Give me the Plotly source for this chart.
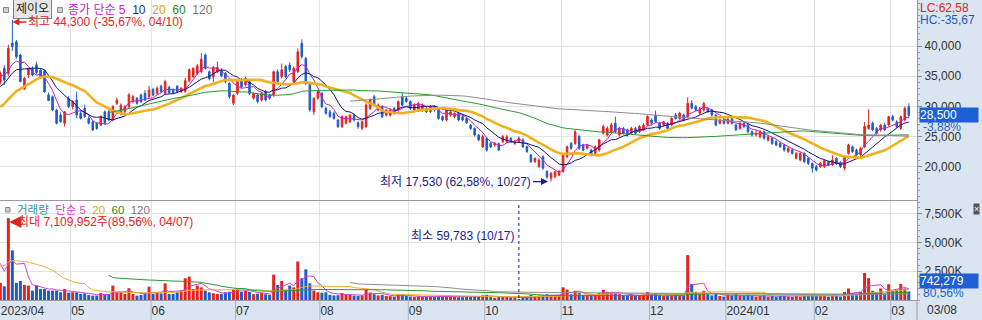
import pandas as pd
import plotly.graph_objects as go
from plotly.subplots import make_subplots

# ---------------- data ----------------
NAME = "제이오"
FIRST_DAY = "2023-04-05"
LAST_DAY = "2024-03-08"
KRX_HOLIDAYS = ["2023-05-01", "2023-05-05", "2023-05-29", "2023-06-06", "2023-08-15",
                "2023-09-28", "2023-09-29", "2023-10-02", "2023-10-03", "2023-10-09",
                "2023-12-25", "2023-12-29", "2024-01-01", "2024-02-09", "2024-02-12",
                "2024-03-01"]

open_ = [
    34000, 36300, 35450, 40500, 40700, 38500, 32850, 35200, 36300, 36900,
    36000, 35900, 31900, 31600, 29400, 28550, 27200, 31300, 29950, 31050,
    28850, 29650, 28000, 27450, 27200, 26900, 29100, 29100, 27750, 30500,
    28850, 29100, 29950, 30800, 31350, 31900, 32150, 31600, 32800, 32150,
    33350, 32150, 33150, 32800, 33350, 32450, 32450, 34250, 34900, 35500,
    35750, 38500, 35750, 34900, 35750, 36050, 35450, 33800, 30500, 32150,
    34350, 33550, 34100, 31350, 31900, 31050, 32450, 31900, 31900, 35750,
    34900, 36600, 36850, 34100, 35750, 40450, 37950, 33800, 29100, 31350,
    32150, 29650, 29100, 28850, 27750, 26650, 27200, 27450, 28550, 27300,
    26350, 26650, 29650, 31600, 29400, 29950, 28550, 28550, 29650, 29400,
    31600, 31350, 30800, 29400, 29400, 29400, 29650, 29100, 29950, 29650,
    28300, 27750, 28550, 28300, 28850, 28300, 28000, 26900, 26350, 25250,
    23300, 24700, 23850, 23600, 23850, 24150, 24150, 24700, 23850, 24150,
    24450, 23300, 21950, 20850, 20000, 21650, 19200, 18100, 18350, 18600,
    19200, 21650, 23850, 23850, 25000, 23600, 23050, 22750, 22200, 22750,
    25550, 25250, 25800, 27200, 25250, 26350, 26100, 25550, 26350, 25800,
    26100, 26900, 27750, 28550, 27200, 26900, 27200, 26900, 28550, 28000,
    28550, 28300, 30500, 29950, 28850, 29400, 29650, 29400, 28550, 27200,
    27750, 27200, 28000, 26900, 26350, 27200, 26900, 25800, 25250, 24950,
    25800, 24400, 24700, 24150, 23850, 23600, 22500, 22750, 21400, 21100,
    22200, 21400, 20550, 20000, 20000, 20000, 20800, 20300, 21400, 20650,
    19750, 22200, 23300, 22750, 21950, 23300, 26350, 27200, 26350, 26100,
    26900, 26900, 28300, 27450, 26350, 27750, 29950]

high = [
    35800, 36800, 40200, 44300, 41000, 38700, 34900, 36300, 36600, 37400,
    36300, 36000, 32300, 31800, 29600, 29000, 29200, 31700, 31000, 32400,
    29300, 30300, 28400, 27700, 27400, 28500, 29300, 29400, 30200, 31500,
    30500, 30200, 32200, 31900, 31500, 32100, 32700, 33400, 33100, 33300,
    33600, 34400, 33400, 33000, 33500, 33200, 34700, 36300, 36500, 37000,
    38800, 38800, 35900, 36700, 37400, 36300, 35700, 34000, 31900, 34300,
    34700, 34900, 34300, 32300, 32100, 32400, 32700, 32100, 35900, 36100,
    37100, 36900, 37300, 36600, 39600, 41100, 38200, 34100, 31500, 32700,
    32400, 29900, 29400, 29100, 27900, 28500, 28500, 28700, 28800, 27500,
    27600, 30500, 31300, 31900, 30500, 30200, 29600, 29700, 29900, 31000,
    32200, 31600, 31000, 30500, 30700, 30500, 29900, 30200, 30200, 29900,
    28500, 29600, 29300, 29000, 29100, 28500, 28200, 27100, 26500, 25400,
    25300, 24900, 24100, 24100, 24000, 25300, 25300, 24900, 24500, 25000,
    24700, 23500, 22100, 21500, 21400, 21900, 19400, 19100, 19300, 19500,
    22200, 23500, 24100, 26100, 25300, 23800, 23800, 23000, 23500, 24600,
    27000, 26700, 27300, 28300, 26600, 26600, 26300, 26600, 26600, 26900,
    27200, 28500, 28000, 29300, 27400, 27600, 27400, 28200, 28900, 29100,
    28800, 31500, 31000, 30200, 29900, 30700, 29900, 29600, 28700, 27900,
    28000, 28100, 28300, 27100, 27400, 27400, 27100, 26000, 26000, 26100,
    26000, 25200, 24900, 24400, 24100, 23800, 23300, 23000, 22400, 22400,
    22400, 21600, 20700, 20300, 20800, 21200, 21000, 21900, 21600, 20900,
    21800, 23800, 23500, 23000, 23300, 27400, 29500, 27500, 26600, 27100,
    27300, 28400, 28600, 27700, 28500, 30000, 30500]

low = [
    33600, 33550, 35000, 39200, 37900, 34000, 32700, 34700, 35000, 35300,
    34700, 32200, 30900, 29200, 27000, 27300, 26650, 29700, 29500, 28000,
    27800, 28100, 27000, 25900, 26100, 26700, 27000, 27600, 27500, 30200,
    28500, 28800, 29700, 30500, 30300, 30600, 30900, 31300, 31700, 31900,
    32200, 31900, 32100, 32000, 32200, 32200, 32300, 34000, 34700, 35200,
    35500, 36100, 34300, 34000, 35500, 34800, 33800, 31300, 30200, 31900,
    33000, 33300, 31900, 31100, 30500, 30800, 30800, 31100, 31600, 33800,
    34600, 34700, 35700, 33900, 35500, 37900, 33500, 29100, 28550, 31100,
    29700, 28600, 28100, 27800, 26400, 26400, 27000, 27200, 27500, 26300,
    26050, 26400, 29400, 30000, 29200, 28000, 28300, 28300, 28600, 29100,
    30000, 30600, 29400, 29100, 29100, 29100, 28900, 28900, 29100, 27800,
    27500, 27500, 28300, 28000, 27500, 27500, 27100, 26100, 25000, 24200,
    23100, 22500, 23100, 23300, 22600, 23900, 23900, 23900, 23600, 23900,
    23100, 22300, 20600, 20600, 19800, 19500, 18000, 17530, 18100, 18400,
    19000, 21400, 22800, 23600, 22800, 22600, 22800, 21700, 22000, 22500,
    25300, 25000, 25500, 25600, 25000, 25300, 25000, 25300, 25300, 25600,
    25900, 26700, 27000, 27300, 26100, 26700, 26100, 26700, 27800, 27800,
    27500, 28100, 29500, 29200, 28600, 29100, 28900, 28300, 26700, 27000,
    27000, 27000, 27000, 25900, 26100, 26400, 25500, 25000, 25000, 24700,
    24500, 24200, 23600, 23400, 23100, 22500, 22300, 22000, 21200, 20900,
    20600, 20300, 19000, 19200, 19800, 19800, 20100, 20100, 20300, 19800,
    19400, 22000, 22300, 21700, 21700, 23100, 26100, 25900, 25300, 25800,
    25900, 26700, 27500, 26400, 26100, 27500, 28000]

close = [
    35500, 34350, 39600, 39900, 38200, 34100, 34650, 36300, 35200, 35600,
    34900, 32400, 30950, 29400, 27200, 27450, 29100, 29950, 30800, 28550,
    28000, 28300, 27200, 26100, 26350, 28300, 27200, 27750, 29950, 31050,
    30200, 29950, 31900, 31600, 30500, 30800, 31050, 32700, 31900, 33000,
    32450, 34100, 32250, 32250, 32450, 33000, 34250, 36050, 36300, 36700,
    37800, 36300, 34600, 36450, 36450, 35050, 34100, 31600, 31900, 34100,
    33250, 34650, 32150, 32150, 30800, 32150, 31050, 31350, 35750, 34100,
    36050, 34900, 36050, 36300, 39050, 38250, 33800, 29400, 31350, 32450,
    29950, 28850, 28300, 28000, 26650, 28300, 28300, 28550, 27750, 26650,
    27450, 30200, 31050, 30200, 30200, 28300, 29400, 29400, 28850, 30800,
    30200, 30800, 29650, 30200, 30500, 30200, 29100, 29950, 29400, 28000,
    27750, 29400, 29100, 28850, 27750, 27750, 27300, 26350, 25250, 24450,
    25000, 22750, 23300, 23850, 22750, 25000, 24950, 24150, 24150, 24700,
    23300, 22500, 20850, 21400, 21100, 19750, 18300, 18900, 19150, 19200,
    21950, 23300, 23050, 25800, 23050, 22750, 23600, 21950, 23300, 24450,
    26650, 26350, 26900, 25800, 26350, 25550, 25250, 26350, 25550, 26650,
    26900, 28300, 27200, 27450, 26350, 27450, 26350, 28000, 28000, 28850,
    27750, 30500, 29700, 29400, 29650, 30500, 29100, 28550, 26900, 27750,
    27200, 27850, 27200, 26100, 27200, 26650, 25800, 25250, 25550, 25800,
    24700, 24950, 23850, 23600, 23300, 22750, 23050, 22200, 22200, 22200,
    20850, 20550, 19750, 19450, 20550, 21000, 20300, 21100, 20550, 20000,
    21650, 23600, 22500, 21950, 23050, 26650, 26900, 26100, 25550, 26900,
    26100, 28300, 27750, 26650, 28300, 29650, 28500]

volume_k = [
    1500, 1190, 7109.952, 4310, 1490, 1660, 1310, 1250, 820, 1250,
    960, 960, 820, 820, 820, 670, 960, 640, 670, 670,
    520, 580, 440, 380, 380, 600, 440, 520, 1250, 670,
    670, 520, 1020, 520, 380, 440, 520, 1160, 520, 640,
    580, 1450, 520, 520, 670, 820, 1890, 2030, 960, 1250,
    1100, 820, 670, 580, 520, 520, 670, 720, 900, 1000,
    700, 800, 700, 500, 550, 600, 500, 450, 2200, 1300,
    1660, 900, 1250, 1100, 3350, 1890, 2660, 1450, 820, 670,
    640, 670, 450, 400, 420, 600, 500, 450, 380, 350,
    400, 900, 650, 500, 400, 450, 350, 330, 300, 500,
    450, 350, 300, 280, 320, 300, 260, 280, 250, 300,
    280, 330, 280, 260, 240, 250, 270, 300, 350, 320,
    400, 450, 250, 200, 250, 300, 280, 220, 200, 59.783,
    250, 300, 450, 350, 380, 420, 500, 450, 400, 380,
    1100, 900, 500, 800, 600, 400, 350, 380, 450, 600,
    900, 700, 650, 600, 500, 400, 380, 420, 350, 400,
    450, 700, 500, 600, 400, 350, 380, 400, 450, 400,
    400, 3900, 1400, 700, 500, 800, 500, 400, 600, 350,
    300, 450, 400, 500, 400, 350, 450, 350, 300, 350,
    400, 300, 350, 300, 350, 400, 300, 280, 350, 300,
    350, 400, 500, 450, 400, 350, 300, 450, 350, 300,
    700, 1000, 600, 500, 700, 2350, 1900, 800, 600, 1000,
    500, 1370, 800, 900, 1400, 1000, 742.279]

# closes / volumes before the visible window (only feed the moving averages)
pre_close = [24500, 23000, 22100, 21600, 22300, 21800, 22000, 22600, 22400, 23100,
             22800, 22300, 23000, 23800, 24500, 25300, 26000, 26800, 27500, 27200,
             28100, 27600, 28200, 29500, 30800, 31400, 32600, 33200, 34100, 35600,
             34800, 35500]
pre_volume_k = [12000, 4000, 2500, 2000, 1600, 1500, 1400, 2200, 1900, 2100,
                1800, 1600, 1500, 1400, 1300, 1500, 1700, 2000, 2400, 2200,
                2600, 3000, 2800, 3500, 4200, 3800, 5500, 6200, 4600, 3900,
                3000, 2900]

PRICE_MA = [5, 10, 20, 60, 120]
VOL_MA = [5, 20, 60, 120]

HIGH_TEXT = "최고 44,300 (-35,67%, 04/10)"
LOW_TEXT = "최저 17,530 (62,58%, 10/27)"
VMAX_TEXT = "최대 7,109,952주(89,56%, 04/07)"
VMIN_TEXT = "최소 59,783 (10/17)"
LAST_PRICE_TEXT = "28,500"
LAST_CHG_TEXT = "-3,88%"
LAST_VOL_TEXT = "742,279"
LAST_VCHG_TEXT = "80,56%"
LC_TEXT = "LC:62,58"
HC_TEXT = "HC:-35,67"

# ---------------- derived ----------------
dates = pd.bdate_range(FIRST_DAY, LAST_DAY, freq="C", holidays=KRX_HOLIDAYS)
n = len(close)
idx = list(range(n))
npre = len(pre_close)

full_close = pd.Series(pre_close + close, dtype=float)
full_vol = pd.Series([v * 1000 for v in pre_volume_k + volume_k], dtype=float)
volume = [v * 1000 for v in volume_k]

i_hi = max(range(n), key=lambda i: high[i])
i_lo = min(range(n), key=lambda i: low[i])
i_vmax = max(range(n), key=lambda i: volume[i])
i_vmin = min(range(n), key=lambda i: volume[i])

tickvals, ticktext = [0], [dates[0].strftime("%Y/%m")]
for i in range(1, n):
    if dates[i].month != dates[i - 1].month:
        tickvals.append(i - 0.5)
        ticktext.append(dates[i].strftime("%Y/%m") if dates[i].month == 1 else dates[i].strftime("%m"))

RED = "#e4231f"
BLUE = "#1f5cc9"
MA_COL = {5: "#c81ec8", 10: "#141478", 20: "#f0b020", 60: "#2a9a2a", 120: "#8c8c8c"}
VMA_COL = {5: "#d040d0", 20: "#eab030", 60: "#2a9a2a", 120: "#8c8c8c"}
FONT = "Liberation Sans, Noto Sans CJK KR, sans-serif"
GRID = "#e3e3e3"
AXLINE = "#9a9a9a"
BAND = "#dbe5f1"

W, H = 982, 320
ML, MR, MT, MB = 0, 65, 0, 20
PW, PH = W - ML - MR, H - MT - MB


def px_x(x):
    return x / PW


def px_y(y):
    return 1 - y / PH


fig = make_subplots(rows=2, cols=1, shared_xaxes=True,
                    vertical_spacing=1 / PH, row_heights=[200, 99])

fig.add_trace(go.Candlestick(
    x=idx, open=open_, high=high, low=low, close=close,
    increasing=dict(line=dict(color=RED, width=1), fillcolor=RED),
    decreasing=dict(line=dict(color=BLUE, width=1), fillcolor=BLUE),
    whiskerwidth=0, showlegend=False, hoverinfo="skip"), row=1, col=1)

for p in PRICE_MA:
    ma = full_close.rolling(p).mean().iloc[npre:].tolist()
    fig.add_trace(go.Scatter(x=idx, y=ma, mode="lines",
                             line=dict(color=MA_COL[p], width=2.6 if p == 20 else 1),
                             showlegend=False, hoverinfo="skip"), row=1, col=1)

bar_colors = [RED if close[i] >= open_[i] else BLUE for i in range(n)]
fig.add_trace(go.Bar(x=idx, y=volume, width=0.75, marker=dict(color=bar_colors, line=dict(width=0)),
                     showlegend=False, hoverinfo="skip"), row=2, col=1)
for p in VOL_MA:
    ma = full_vol.rolling(p).mean().iloc[npre:].tolist()
    fig.add_trace(go.Scatter(x=idx, y=ma, mode="lines", line=dict(color=VMA_COL[p], width=1),
                             showlegend=False, hoverinfo="skip"), row=2, col=1)

xr = [-0.075, 228.04]
fig.update_xaxes(range=xr, tickvals=tickvals, ticktext=ticktext, showgrid=True, gridcolor=GRID,
                 gridwidth=1, zeroline=False, showline=True, linecolor=AXLINE, mirror=True,
                 ticks="", ticklabelposition="outside right",
                 tickfont=dict(family=FONT, size=12, color="#333"), rangeslider_visible=False)
fig.update_yaxes(side="right", showgrid=True, gridcolor=GRID, zeroline=False, showline=True,
                 linecolor=AXLINE, mirror=True, ticks="outside", ticklen=4, tickcolor="#888",
                 tickfont=dict(family=FONT, size=12, color="#333"))
fig.update_yaxes(range=[14482, 47622], tickvals=[20000, 25000, 30000, 35000, 40000],
                 tickformat=",d",
                 minor=dict(ticks="outside", ticklen=2, dtick=1000, tickcolor="#999", showgrid=False),
                 row=1, col=1)
fig.update_yaxes(range=[0, 8600000], tickvals=[2500000, 5000000, 7500000],
                 ticktext=["2,500K", "5,000K", "7,500K"],
                 minor=dict(ticks="outside", ticklen=2, dtick=500000, tickcolor="#999", showgrid=False),
                 row=2, col=1)

shapes = []
# separators in the date band
for tv in tickvals[1:]:
    shapes.append(dict(type="line", xref="x", yref="paper", x0=tv, x1=tv,
                       y0=-MB / PH, y1=0, line=dict(color="#a8b4c4", width=1)))
shapes.append(dict(type="line", xref="paper", yref="paper", x0=1, x1=1, y0=-MB / PH, y1=0,
                   line=dict(color=AXLINE, width=1)))
# small square icons
for (a, b) in [(3.5, 8.5), (57.5, 62.5)]:
    shapes.append(dict(type="rect", xref="paper", yref="paper", x0=px_x(a), x1=px_x(b),
                       y0=px_y(12.5), y1=px_y(7.5), fillcolor="#d0d0d0", line=dict(color="#8a8a8a", width=1)))
shapes.append(dict(type="rect", xref="paper", yref="paper", x0=px_x(5.5), x1=px_x(10),
                   y0=px_y(212), y1=px_y(207.5), fillcolor="#d0d0d0", line=dict(color="#8a8a8a", width=1)))
# min-volume dashed marker
shapes.append(dict(type="line", xref="x", yref="paper", x0=i_vmin, x1=i_vmin,
                   y0=px_y(298), y1=px_y(205), line=dict(color="#1a1a8c", width=1, dash="3px,3px")))

anns = []


def sp(txt, col):
    return f'<span style="color:{col}">{txt}</span>'


NB = "\u00a0"
anns.append(dict(xref="paper", yref="paper", x=px_x(12.5), y=px_y(9.5), xanchor="left", yanchor="middle",
                 text=NAME, showarrow=False, bgcolor="#e6e6e6", bordercolor="#808080", borderwidth=1,
                 borderpad=2, font=dict(family=FONT, size=12, color="#222")))
anns.append(dict(xref="paper", yref="paper", x=px_x(66), y=px_y(10), xanchor="left", yanchor="middle",
                 showarrow=False, font=dict(family=FONT, size=12),
                 text=sp("종가 단순 5", MA_COL[5]) + NB * 2 + sp("10", "#2a2a90") + NB * 2 +
                 sp("20", "#d8a800") + NB * 2 + sp("60", "#2a8a2a") + NB * 2 + sp("120", "#777")))
anns.append(dict(xref="paper", yref="paper", x=px_x(15), y=px_y(210), xanchor="left", yanchor="middle",
                 showarrow=False, font=dict(family=FONT, size=11.5),
                 text=sp("거래량", "#3a8fa0") + NB * 2 + sp("단순 5", VMA_COL[5]) + NB * 2 +
                 sp("20", "#e0a800") + NB * 2 + sp("60", "#2a8a2a") + NB * 2 + sp("120", "#777")))
# high / low annotations
anns.append(dict(xref="x", yref="y", x=i_hi, y=high[i_hi], ax=14, ay=0, xanchor="left", yanchor="middle",
                 yshift=-2, text=HIGH_TEXT, showarrow=True, arrowhead=2, arrowsize=1, arrowwidth=1.4,
                 arrowcolor=RED, standoff=0, font=dict(family=FONT, size=12, color=RED)))
anns.append(dict(xref="x", yref="y", x=i_lo, y=low[i_lo], ax=-18, ay=0, xanchor="right", yanchor="middle",
                 text=LOW_TEXT, showarrow=True, arrowhead=2, arrowsize=1, arrowwidth=1.4,
                 arrowcolor="#1a1a8c", standoff=3, font=dict(family=FONT, size=12, color="#1a1a8c")))
anns.append(dict(xref="x", yref="paper", x=i_vmax, y=px_y(222), ax=8, ay=0, xanchor="left",
                 yanchor="middle", text=VMAX_TEXT, showarrow=True, arrowhead=2, arrowsize=1.2,
                 arrowwidth=2, arrowcolor=RED, standoff=1, font=dict(family=FONT, size=12, color=RED)))
anns.append(dict(xref="x", yref="paper", x=i_vmin, y=px_y(236), xanchor="right", yanchor="middle",
                 xshift=-3, text=VMIN_TEXT, showarrow=False, font=dict(family=FONT, size=12, color="#1a1a8c")))
# right side labels
anns.append(dict(xref="paper", yref="paper", x=1, y=px_y(7.5), xanchor="left", yanchor="middle", xshift=1,
                 text=LC_TEXT, showarrow=False, font=dict(family=FONT, size=12, color=RED)))
anns.append(dict(xref="paper", yref="paper", x=1, y=px_y(20), xanchor="left", yanchor="middle", xshift=1,
                 text=HC_TEXT, showarrow=False, font=dict(family=FONT, size=12, color="#2358c0")))
anns.append(dict(xref="paper", yref="y", x=1, y=close[-1], xanchor="left", yanchor="middle", xshift=2,
                 text=LAST_PRICE_TEXT, showarrow=False, bgcolor="#1f5fd6", width=58, align="left",
                 borderpad=0, font=dict(family=FONT, size=12, color="white")))
anns.append(dict(xref="paper", yref="y", x=1, y=close[-1], xanchor="left", yanchor="middle", xshift=4,
                 yshift=-12, text=LAST_CHG_TEXT, showarrow=False,
                 font=dict(family=FONT, size=12, color="#2060d0")))
anns.append(dict(xref="paper", yref="y2", x=1, y=volume[-1], xanchor="left", yanchor="middle", xshift=2,
                 yshift=10, text=LAST_VOL_TEXT, showarrow=False, bgcolor="#1f5fd6", width=58, align="left",
                 borderpad=0, font=dict(family=FONT, size=12, color="white")))
anns.append(dict(xref="paper", yref="y2", x=1, y=volume[-1], xanchor="left", yanchor="middle", xshift=4,
                 yshift=-2, text=LAST_VCHG_TEXT, showarrow=False,
                 font=dict(family=FONT, size=12, color="#2060d0")))
anns.append(dict(xref="paper", yref="paper", x=1, y=-10 / PH, xanchor="left", yanchor="middle", xshift=8,
                 text=dates[-1].strftime("%m/%d"), showarrow=False,
                 font=dict(family=FONT, size=12, color="#333")))
anns.append(dict(xref="paper", yref="paper", x=px_x(976), y=px_y(209), xanchor="center", yanchor="middle",
                 text="×", showarrow=False, bgcolor="#555", borderpad=0,
                 font=dict(family=FONT, size=9, color="white")))

fig.update_layout(width=W, height=H, margin=dict(l=ML, r=MR, t=MT, b=MB),
                  paper_bgcolor=BAND, plot_bgcolor="white", boxgap=0.45,
                  shapes=shapes, annotations=anns, showlegend=False,
                  font=dict(family=FONT, size=12, color="#333"))

fig.write_html("out.html")
